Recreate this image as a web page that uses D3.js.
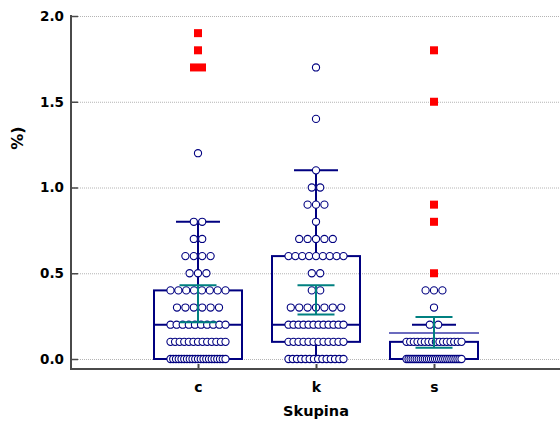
<!DOCTYPE html>
<html><head><meta charset="utf-8">
<script src="https://cdn.jsdelivr.net/npm/d3@7"></script>
<style>
html,body{margin:0;padding:0;background:#fff;}
svg{display:block;}
text{font-family:"DejaVu Sans",Verdana,sans-serif;font-weight:bold;fill:#000;}
</style></head>
<body>
<svg id="chart" width="560" height="429"></svg>
<script>
// ---- data ----
const categories = ["c", "k", "s"];
// dot plot values: [value, count]
const cDots = [[0.0,21],[0.1,13],[0.2,10],[0.3,6],[0.4,8],[0.5,3],[0.6,4],[0.7,2],[0.8,2],[1.2,1]];
const kDots = [[0.0,14],[0.1,12],[0.2,12],[0.3,7],[0.4,2],[0.5,2],[0.6,9],[0.7,5],[0.8,1],[0.9,3],[1.0,2],[1.1,1],[1.4,1],[1.7,1]];
const sDots = [[0.0,28],[0.1,16],[0.2,2],[0.3,1],[0.4,3]];
// far-out values (red squares): [value, count]
const cFar = [[1.7,2],[1.8,1],[1.9,1]];
const kFar = [];
const sFar = [[0.5,1],[0.8,1],[0.9,1],[1.5,1],[1.8,1]];
// box statistics
const q1 = [0.0, 0.1, 0.0];
const medians = [0.2, 0.2, 0.0];
const q3 = [0.4, 0.6, 0.1];
const whiskerLow = [0.0, 0.0, 0.0];
const whiskerHigh = [0.8, 1.1, 0.2];
// 95% CI of the mean
const ciLow = [0.215, 0.26, 0.065];
const ciHigh = [0.43, 0.43, 0.245];
// extra reference line (only on group s)
const refLine = [null, null, 0.152];
const yTicks = [0, 0.5, 1.0, 1.5, 2.0];
const yTitle = "%)";
const xTitle = "Skupina";

const dotsByGroup = [cDots, kDots, sDots];
const farByGroup = [cFar, kFar, sFar];

// ---- layout ----
const svg = d3.select("#chart");
const axisX = 71, axisBottom = 369, axisTop = 15, rightEdge = 560;
const y = d3.scaleLinear().domain([0, 2]).range([359, 16]);
const x = d3.scalePoint().domain(categories).range([80, 552]).padding(1);

const navy = "#000080", teal = "#008080", red = "#ff0000", axisCol = "#4a4a4a";
const boxW = 88, capW = 44, ciCapW = 37;

// gridlines
svg.append("g").selectAll("line").data(yTicks).join("line")
  .attr("x1", axisX + 1).attr("x2", rightEdge)
  .attr("y1", d => y(d) + 0.5).attr("y2", d => y(d) + 0.5)
  .attr("stroke", "#b4b4b4").attr("stroke-width", 1).attr("stroke-dasharray", "1,1");

// y axis
const yAxis = d3.axisLeft(y).tickValues(yTicks).tickFormat(d3.format(".1f"))
  .tickSizeInner(-7).tickSizeOuter(0).tickPadding(7);
const gy = svg.append("g").attr("transform", `translate(${axisX},0)`).call(yAxis);
gy.select(".domain").remove();
gy.selectAll(".tick line").attr("stroke", axisCol).attr("stroke-width", 1.5);
gy.selectAll(".tick text").style("font-size", "13.5px").style("font-family", "DejaVu Sans").style("font-weight", "bold").attr("fill", "#000");

svg.append("line").attr("x1", axisX).attr("x2", axisX).attr("y1", axisTop).attr("y2", axisBottom + 1)
  .attr("stroke", axisCol).attr("stroke-width", 2);
svg.append("line").attr("x1", axisX - 1).attr("x2", rightEdge).attr("y1", axisBottom).attr("y2", axisBottom)
  .attr("stroke", axisCol).attr("stroke-width", 2);

// x axis ticks + labels
const xAxis = d3.axisBottom(x).tickSizeInner(-5).tickSizeOuter(0).tickPadding(13);
const gx = svg.append("g").attr("transform", `translate(0,${axisBottom})`).call(xAxis);
gx.select(".domain").remove();
gx.selectAll(".tick line").attr("stroke", axisCol).attr("stroke-width", 2);
gx.selectAll(".tick text").style("font-size", "14px").style("font-family", "DejaVu Sans").style("font-weight", "bold").attr("fill", "#000");

// axis titles
svg.append("text").attr("transform", `translate(23,138) rotate(-90)`).attr("text-anchor", "middle")
  .style("font-size", "16px").text(yTitle);
svg.append("text").attr("x", x("k")).attr("y", 416).attr("text-anchor", "middle")
  .style("font-size", "14.5px").text(xTitle);

// boxes and whiskers
categories.forEach((cat, i) => {
  const cx = x(cat);
  const g = svg.append("g");
  g.append("line").attr("x1", cx).attr("x2", cx).attr("y1", y(q3[i])).attr("y2", y(whiskerHigh[i]))
    .attr("stroke", navy).attr("stroke-width", 2);
  g.append("line").attr("x1", cx).attr("x2", cx).attr("y1", y(q1[i])).attr("y2", y(whiskerLow[i]))
    .attr("stroke", navy).attr("stroke-width", 2);
  [whiskerHigh[i], whiskerLow[i]].forEach(v => {
    g.append("line").attr("x1", cx - capW / 2).attr("x2", cx + capW / 2).attr("y1", y(v)).attr("y2", y(v))
      .attr("stroke", navy).attr("stroke-width", 2);
  });
  g.append("rect").attr("x", cx - boxW / 2).attr("width", boxW)
    .attr("y", y(q3[i])).attr("height", Math.max(0, y(q1[i]) - y(q3[i])))
    .attr("fill", "none").attr("stroke", navy).attr("stroke-width", 2);
  g.append("line").attr("x1", cx - boxW / 2).attr("x2", cx + boxW / 2).attr("y1", y(medians[i])).attr("y2", y(medians[i]))
    .attr("stroke", navy).attr("stroke-width", 2);
  if (refLine[i] !== null) {
    g.append("line").attr("x1", cx - boxW / 2 - 1).attr("x2", cx + boxW / 2 + 1)
      .attr("y1", y(refLine[i])).attr("y2", y(refLine[i]))
      .attr("stroke", "#3a3aa8").attr("stroke-width", 1.5);
  }
});

// dots
const r = 3.6, natural = 8.4, maxSpan = 55;
categories.forEach((cat, i) => {
  const cx = x(cat);
  const pts = [];
  dotsByGroup[i].forEach(([v, n]) => {
    const sp = n > 1 ? Math.min(natural, maxSpan / (n - 1)) : 0;
    for (let j = 0; j < n; j++) pts.push({ x: cx + (j - (n - 1) / 2) * sp, y: y(v) });
  });
  svg.append("g").selectAll("circle").data(pts).join("circle")
    .attr("cx", d => d.x).attr("cy", d => d.y).attr("r", r)
    .attr("fill", "#fff").attr("stroke", navy).attr("stroke-width", 1.1);
});

// CI of mean (teal)
categories.forEach((cat, i) => {
  const cx = x(cat);
  const g = svg.append("g");
  g.append("line").attr("x1", cx).attr("x2", cx).attr("y1", y(ciHigh[i])).attr("y2", y(ciLow[i]))
    .attr("stroke", teal).attr("stroke-width", 2);
  [ciHigh[i], ciLow[i]].forEach(v => {
    g.append("line").attr("x1", cx - ciCapW / 2).attr("x2", cx + ciCapW / 2).attr("y1", y(v)).attr("y2", y(v))
      .attr("stroke", teal).attr("stroke-width", 2);
  });
});

// far-out values (red squares)
const sq = 8;
categories.forEach((cat, i) => {
  const cx = x(cat);
  const pts = [];
  farByGroup[i].forEach(([v, n]) => {
    for (let j = 0; j < n; j++) pts.push({ x: cx + (j - (n - 1) / 2) * sq, y: y(v) });
  });
  svg.append("g").selectAll("rect").data(pts).join("rect")
    .attr("x", d => d.x - sq / 2).attr("y", d => d.y - sq / 2)
    .attr("width", sq).attr("height", sq).attr("fill", red);
});
</script>
</body></html>
